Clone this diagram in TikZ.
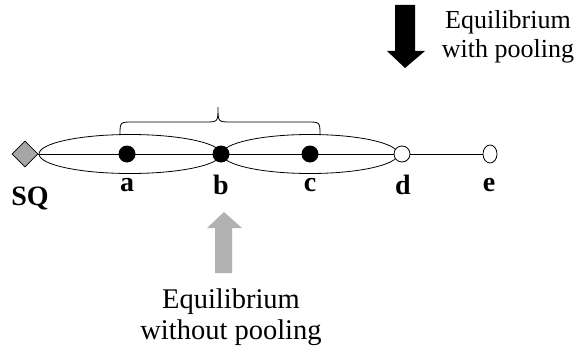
\documentclass[tikz,border=0pt]{standalone}
\usepackage{fontspec}
\setmainfont{Liberation Serif}
\usetikzlibrary{shapes.geometric}
\begin{document}
\begin{tikzpicture}[x=1pt,y=-1pt,
  lbl/.style={font=\fontsize{28}{30}\selectfont\bfseries, inner sep=0pt},
  captxt/.style={font=\fontsize{26}{29}\selectfont, align=center, inner sep=0pt},
  captxtb/.style={font=\fontsize{28.5}{31}\selectfont, align=center, inner sep=0pt},
  dot/.style={circle, fill=black, minimum size=17pt, inner sep=0pt},
  odot/.style={circle, draw=black, fill=white, minimum size=16pt, inner sep=0pt, line width=0.8pt},
  oell/.style={ellipse, draw=black, fill=white, minimum width=14pt, minimum height=18pt, inner sep=0pt, line width=0.8pt},
  ln/.style={line width=0.8pt}]
\useasboundingbox (0,0) rectangle (578,353);
% ellipses
\node[ellipse, draw, ln, minimum width=182pt, minimum height=39pt, inner sep=0pt] (E1) at (130,154) {};
\node[ellipse, draw, ln, minimum width=176pt, minimum height=39pt, inner sep=0pt] (E2) at (310,154) {};
% nodes
\node[diamond, draw=black, fill=gray!70, minimum width=26pt, minimum height=26pt, inner sep=0pt, line width=0.6pt] (SQ) at (25,154) {};
\node[oell] (e) at (490,154) {};
\draw[ln] (SQ.east) -- (e.west);
\node[dot] (a) at (127,154) {};
\node[dot] (b) at (221,154) {};
\node[dot] (c) at (310,154) {};
\node[odot] (d) at (402,154) {};
% labels
\node[lbl] (la) at (127,185) {a};
\node[lbl] (lb) at (221,185) {b};
\node[lbl] (lc) at (310,185) {c};
\node[lbl] (ld) at (403,185) {d};
\node[lbl] (le) at (489,185) {e};
\node[lbl] (lsq) at (30,198) {SQ};
% brace
\coordinate (bl) at (120,135);
\coordinate (br) at (320,135);
\coordinate (bt) at (218,107);
\draw[ln] (bl) .. controls (120,122) .. (133,122) -- (205,122) .. controls (218,122) .. (bt)
  .. controls (218,122) .. (231,122) -- (307,122) .. controls (320,122) .. (br);
% black arrow
\fill[black] (395,5) -- (415,5) -- (415,51) -- (425,51) -- (405,68) -- (387,51) -- (395,51) -- cycle;
\node[captxt] (t1) at (508,37) {Equilibrium\\with pooling};
% gray arrow
\fill[gray!60] (215,273) -- (232,273) -- (232,228) -- (242,228) -- (224,212) -- (207,228) -- (215,228) -- cycle;
\node[captxtb] (t2) at (231,317) {Equilibrium\\without pooling};
\end{tikzpicture}
\end{document}
